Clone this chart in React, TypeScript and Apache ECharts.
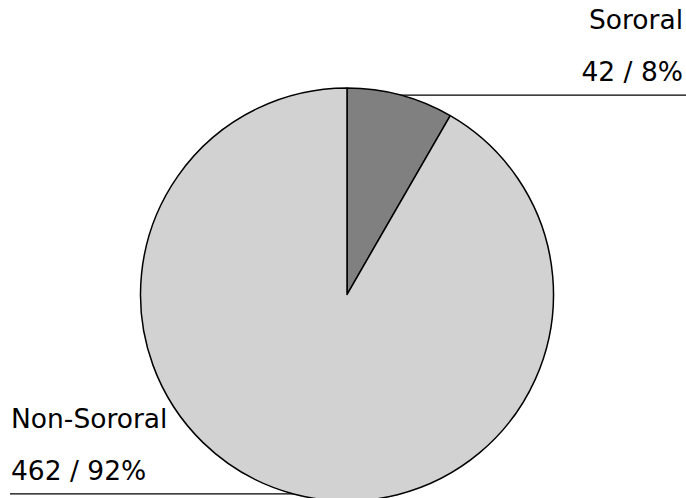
import React, { useEffect, useRef } from "react";
import * as echarts from "echarts";

// Share of sororal vs. non-sororal cases
const categories: string[] = ["Sororal", "Non-Sororal"];
const counts: number[] = [42, 462];
const sliceColors: string[] = ["#808080", "#d2d2d2"];

const WIDTH = 686;
const HEIGHT = 498;

export default function App() {
  const ref = useRef<HTMLDivElement>(null);

  useEffect(() => {
    if (!ref.current) return;
    const chart = echarts.init(ref.current, undefined, { renderer: "svg" });

    const data = categories.map((name, i) => ({
      name,
      value: counts[i],
      itemStyle: { color: sliceColors[i] },
    }));

    chart.setOption({
      animation: false,
      backgroundColor: "#ffffff",
      series: [
        {
          type: "pie",
          center: [347, 294.5],
          radius: 206.5,
          startAngle: 90,
          clockwise: true,
          percentPrecision: 0,
          avoidLabelOverlap: false,
          data,
          itemStyle: { borderColor: "#000000", borderWidth: 1.5 },
          emphasis: { disabled: true },
          label: {
            show: true,
            position: "outside",
            formatter: "{b}\n{c} / {d}%",
            fontFamily: "DejaVu Sans",
            fontSize: 26.5,
            lineHeight: 51.5,
            color: "#000000",
            overflow: "none",
          },
          labelLine: {
            show: true,
            length: 0,
            length2: 10,
            lineStyle: { color: "#000000", width: 1.2 },
          },
          // Put each label above a horizontal leader running from the slice's
          // outer edge to the side of the canvas.
          labelLayout: (params: any) => {
            const start = params.labelLinePoints[0];
            const isLeft = start[0] < WIDTH / 2;
            const endX = isLeft ? 10 : WIDTH;
            return {
              x: isLeft ? 11 : 683,
              y: start[1] + 2,
              align: isLeft ? "left" : "right",
              verticalAlign: "bottom",
              labelLinePoints: [
                [start[0], start[1]],
                [start[0], start[1]],
                [endX, start[1]],
              ],
            };
          },
        },
      ],
    });

    return () => chart.dispose();
  }, []);

  return (
    <div
      ref={ref}
      style={{ position: "absolute", left: 0, top: 0, width: WIDTH, height: HEIGHT }}
    />
  );
}
